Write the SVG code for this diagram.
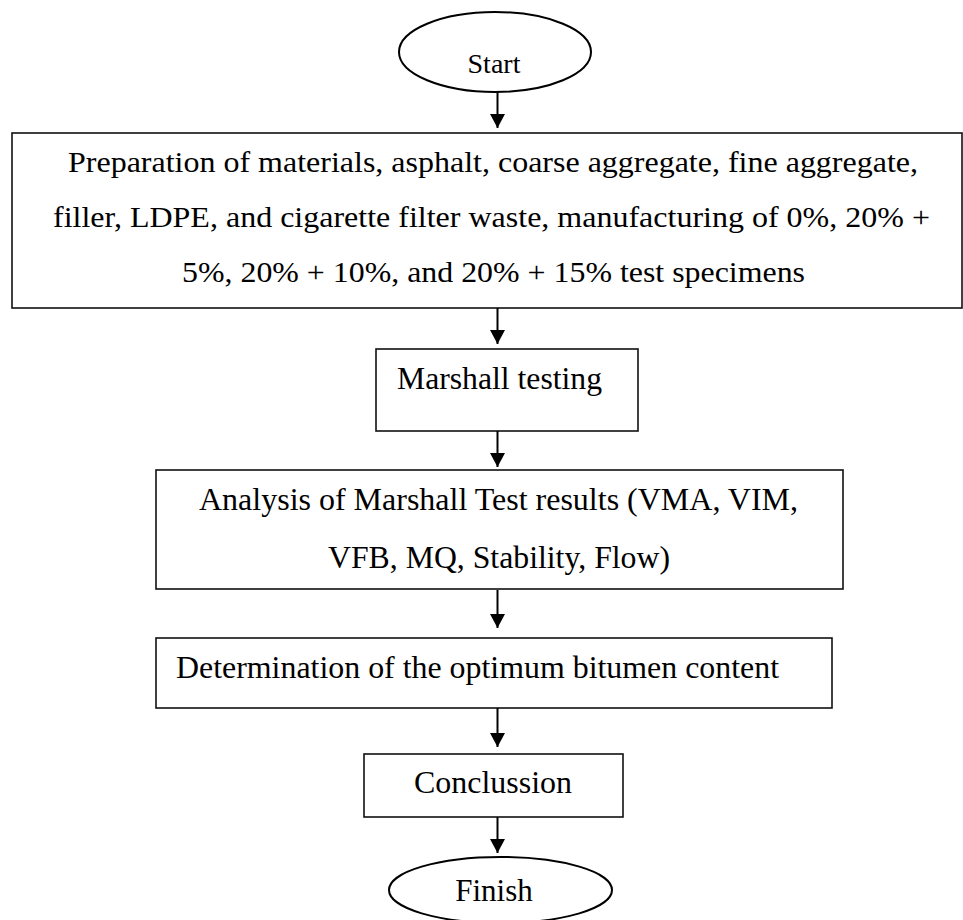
<svg xmlns="http://www.w3.org/2000/svg" width="963" height="920" viewBox="0 0 963 920">
<defs>
<style>
.box{fill:#fff;stroke:#111;stroke-width:1.6}
.oval{fill:#fff;stroke:#000;stroke-width:2}
.t{font-family:"Liberation Serif","Times New Roman",serif;fill:#000}
.c{text-anchor:middle}
.edge{stroke:#000;stroke-width:2;fill:none}
</style>
<marker id="arr" markerUnits="userSpaceOnUse" markerWidth="16" markerHeight="16" viewBox="0 0 16 16" refX="14" refY="8" orient="auto">
<path d="M0,0.5 L14,8 L0,15.5 Z" fill="#000"/>
</marker>
</defs>
<rect width="963" height="920" fill="#fff"/>
<g id="start">
<ellipse class="oval" cx="495" cy="52" rx="96" ry="40"/>
<text class="t c" x="494" y="73" font-size="28">Start</text>
</g>
<g id="prep">
<rect class="box" x="12" y="133" width="950" height="175"/>
<text class="t c" x="493" y="172" font-size="30" textLength="850" lengthAdjust="spacingAndGlyphs">Preparation of materials, asphalt, coarse aggregate, fine aggregate,</text>
<text class="t c" x="491.5" y="227" font-size="30" textLength="877" lengthAdjust="spacingAndGlyphs">filler, LDPE, and cigarette filter waste, manufacturing of 0%, 20% +</text>
<text class="t c" x="493.5" y="282" font-size="30" textLength="623" lengthAdjust="spacingAndGlyphs">5%, 20% + 10%, and 20% + 15% test specimens</text>
</g>
<g id="marshall">
<rect class="box" x="376" y="349" width="262" height="82"/>
<text class="t" x="397" y="389" font-size="32" textLength="205" lengthAdjust="spacingAndGlyphs">Marshall testing</text>
</g>
<g id="analysis">
<rect class="box" x="156" y="470" width="687" height="119"/>
<text class="t c" x="498.5" y="510" font-size="32" textLength="599" lengthAdjust="spacingAndGlyphs">Analysis of Marshall Test results (VMA, VIM,</text>
<text class="t c" x="499" y="568" font-size="32" textLength="342" lengthAdjust="spacingAndGlyphs">VFB, MQ, Stability, Flow)</text>
</g>
<g id="optimum">
<rect class="box" x="156" y="638" width="676" height="70"/>
<text class="t" x="176" y="678" font-size="32" textLength="603" lengthAdjust="spacingAndGlyphs">Determination of the optimum bitumen content</text>
</g>
<g id="conclusion">
<rect class="box" x="364" y="754" width="259" height="63"/>
<text class="t c" x="493" y="793" font-size="32" textLength="158" lengthAdjust="spacingAndGlyphs">Conclussion</text>
</g>
<g id="finish">
<ellipse class="oval" cx="500.5" cy="890" rx="111.5" ry="33"/>
<text class="t c" x="494" y="901" font-size="31">Finish</text>
</g>
<g id="connectors">
<line class="edge" x1="497.5" y1="92" x2="497.5" y2="128" marker-end="url(#arr)"/>
<line class="edge" x1="497.5" y1="308" x2="497.5" y2="344" marker-end="url(#arr)"/>
<line class="edge" x1="497.5" y1="431" x2="497.5" y2="467" marker-end="url(#arr)"/>
<line class="edge" x1="497.5" y1="590" x2="497.5" y2="628" marker-end="url(#arr)"/>
<line class="edge" x1="497.5" y1="708" x2="497.5" y2="747" marker-end="url(#arr)"/>
<line class="edge" x1="497.5" y1="817" x2="497.5" y2="853" marker-end="url(#arr)"/>
</g>
</svg>
